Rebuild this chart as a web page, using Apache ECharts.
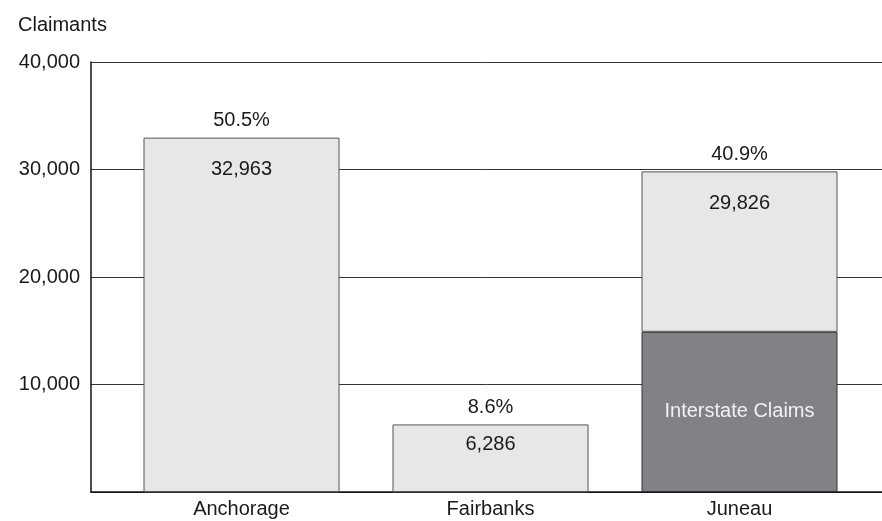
<!DOCTYPE html>
<html>
<head>
<meta charset="utf-8">
<script src="https://cdn.jsdelivr.net/npm/echarts@6/dist/echarts.min.js"></script>
<style>
  html, body { margin: 0; padding: 0; background: #ffffff; }
  #chart { width: 882px; height: 521px; }
</style>
</head>
<body>
<div id="chart"></div>
<script>
// Claimants by office
const offices = ['Anchorage', 'Fairbanks', 'Juneau'];
const totalClaimants = [32963, 6286, 29826];
const interstateClaims = [0, 0, 14900];
const shareLabels = ['50.5%', '8.6%', '40.9%'];
const yTicks = [0, 10000, 20000, 30000, 40000];

const FONT = '"Liberation Sans", Arial, sans-serif';
const fmt = v => v.toLocaleString('en-US');

// Light segment is whatever remains above the interstate part
const otherClaims = totalClaimants.map((t, i) => t - interstateClaims[i]);

const chart = echarts.init(document.getElementById('chart'), null, { renderer: 'canvas' });

const barW = 196;
const valueLabelGap = [22, 10, 22];

const option = {
  animation: false,
  backgroundColor: '#ffffff',
  textStyle: { fontFamily: FONT },
  graphic: [{
    type: 'text', left: 18, top: 15,
    style: { text: 'Claimants', font: '20px ' + FONT, fill: '#1a1a1a' }
  }],
  grid: [
    { left: 91, right: 0, top: 62, bottom: 29 },
    { left: 117, right: 18, top: 62, bottom: 29 }
  ],
  xAxis: [
    {
      gridIndex: 0, type: 'value', min: 0, max: 1,
      axisLine: { show: true, lineStyle: { color: '#111', width: 1.5 } },
      axisTick: { show: false }, axisLabel: { show: false }, splitLine: { show: false }
    },
    {
      gridIndex: 1, type: 'category', data: offices,
      axisLine: { show: false }, axisTick: { show: false },
      axisLabel: { color: '#1a1a1a', fontSize: 20, fontFamily: FONT, margin: 7 }
    }
  ],
  yAxis: [
    {
      gridIndex: 0, type: 'value', min: yTicks[0], max: yTicks[yTicks.length - 1], interval: 10000,
      axisLine: { show: true, lineStyle: { color: '#111', width: 1.5 } },
      axisTick: { show: false },
      axisLabel: {
        color: '#1a1a1a', fontSize: 20, fontFamily: FONT, margin: 11,
        formatter: v => (v === 0 ? '' : fmt(v))
      },
      splitLine: { show: true, lineStyle: { color: '#333', width: 1 } }
    },
    {
      gridIndex: 1, type: 'value', min: yTicks[0], max: yTicks[yTicks.length - 1], show: false
    }
  ],
  series: [
    {
      name: 'Interstate Claims', type: 'bar', xAxisIndex: 1, yAxisIndex: 1, stack: 'claims',
      barWidth: barW, barGap: '-100%', silent: true,
      data: interstateClaims,
      itemStyle: { color: '#808285', borderColor: '#333', borderWidth: 1 },
      label: {
        show: true, position: 'inside', color: '#f2f2f2', fontSize: 20, fontFamily: FONT,
        formatter: p => (p.value > 0 ? 'Interstate Claims' : '')
      }
    },
    {
      name: 'Other Claims', type: 'bar', xAxisIndex: 1, yAxisIndex: 1, stack: 'claims',
      barWidth: barW, barGap: '-100%', silent: true,
      data: otherClaims,
      itemStyle: { color: '#e6e7e8', borderColor: '#555', borderWidth: 1 }
    },
    {
      name: 'Total', type: 'bar', xAxisIndex: 1, yAxisIndex: 1,
      barWidth: barW, barGap: '-100%', silent: true, z: 3,
      data: totalClaimants.map((v, i) => ({
        value: v,
        label: { distance: valueLabelGap[i] }
      })),
      itemStyle: { color: 'rgba(0,0,0,0)' },
      label: {
        show: true, position: 'insideTop', color: '#1a1a1a', fontSize: 20, fontFamily: FONT,
        formatter: p => fmt(p.value)
      }
    },
    {
      name: 'Share', type: 'bar', xAxisIndex: 1, yAxisIndex: 1,
      barWidth: barW, barGap: '-100%', silent: true, z: 3,
      data: totalClaimants,
      itemStyle: { color: 'rgba(0,0,0,0)' },
      label: {
        show: true, position: 'top', distance: 7, color: '#1a1a1a', fontSize: 20, fontFamily: FONT,
        formatter: p => shareLabels[p.dataIndex]
      }
    }
  ]
};

chart.setOption(option);
</script>
</body>
</html>
